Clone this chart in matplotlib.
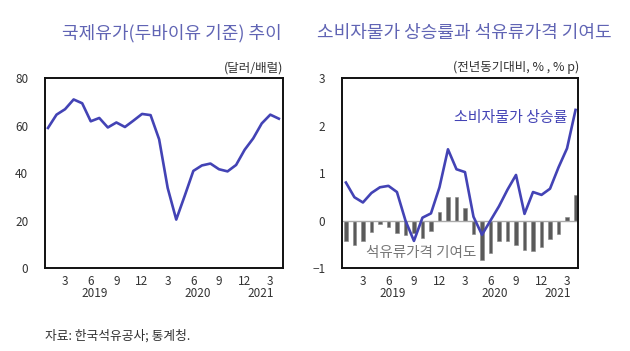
import matplotlib
matplotlib.use("Agg")
import matplotlib.pyplot as plt
import matplotlib.transforms as mtransforms
import numpy as np

plt.rcParams['font.family'] = ['Noto Sans CJK KR', 'DejaVu Sans']

# monthly data, Jan 2019 - Apr 2021
oil_price = [59.0, 64.6, 66.9, 71.0, 69.4, 61.8, 63.2, 59.2, 61.3, 59.4, 62.1, 64.9,
             64.4, 54.2, 33.7, 20.4, 30.5, 40.9, 43.2, 44.0, 41.6, 40.7, 43.4, 49.8,
             54.6, 60.9, 64.6, 62.9]
cpi = [0.8, 0.49, 0.38, 0.58, 0.7, 0.73, 0.6, 0.0, -0.43, 0.06, 0.15, 0.7,
       1.5, 1.08, 1.02, 0.08, -0.3, 0.0, 0.3, 0.65, 0.96, 0.14, 0.6, 0.54,
       0.67, 1.12, 1.52, 2.33]
oil_contrib = [-0.44, -0.51, -0.44, -0.25, -0.08, -0.13, -0.27, -0.3, -0.27, -0.37, -0.23, 0.17,
               0.5, 0.5, 0.26, -0.28, -0.83, -0.69, -0.44, -0.44, -0.52, -0.62, -0.65, -0.56,
               -0.39, -0.28, 0.07, 0.53]
tick_idx = [2, 5, 8, 11, 14, 17, 20, 23, 26]
tick_labels = ['3', '6', '9', '12', '3', '6', '9', '12', '3']
years = ['2019', '2020', '2021']
year_pos = [5.5, 17.5, 24.9]

x = np.arange(len(oil_price))
blue = '#4343b5'
title_c = '#6064b4'
txt = '#333333'

fig = plt.figure(figsize=(6.3, 3.51), dpi=100)
fig.patch.set_facecolor('white')

ax1 = fig.add_axes([0.0714, 0.2365, 0.378, 0.541])
ax2 = fig.add_axes([0.543, 0.2365, 0.3746, 0.541])

ax1.plot(x, oil_price, color=blue, lw=1.9)
ax1.set_ylim(0, 80)
ax1.set_yticks([0, 20, 40, 60, 80])
ax1.set_xlim(-0.35, 27.5)

ax2.bar(x, oil_contrib, width=0.45, color='#5a5a5a', edgecolor='#888888', linewidth=0.4)
ax2.axhline(0, color='#aaaaaa', lw=1.0)
ax2.plot(x, cpi, color=blue, lw=1.9)
ax2.set_ylim(-1, 3)
ax2.set_yticks([-1, 0, 1, 2, 3])
ax2.set_xlim(-0.45, 27.3)

for ax in (ax1, ax2):
    ax.set_xticks(tick_idx)
    ax.set_xticklabels(tick_labels)
    ax.tick_params(length=0, labelsize=8.5, colors=txt, pad=5)
    ax.tick_params(axis='y', pad=12)
    for s in ax.spines.values():
        s.set_linewidth(1.4)
        s.set_color('#111111')
    tr = mtransforms.blended_transform_factory(ax.transData, ax.transAxes)
    for yl, xp in zip(years, year_pos):
        ax.text(xp, -0.135, yl, transform=tr, ha='center', va='center', fontsize=8.5, color=txt)

fig.text(0.273, 0.905, '국제유가(두바이유 기준) 추이', ha='center', va='center', fontsize=13, color=title_c)
fig.text(0.737, 0.905, '소비자물가 상승률과 석유류가격 기여도', ha='center', va='center', fontsize=13, color=title_c)
fig.text(0.45, 0.807, '(달러/배럴)', ha='right', va='center', fontsize=9, color=txt)
fig.text(0.92, 0.807, '(전년동기대비, % , % p)', ha='right', va='center', fontsize=9, color=txt)

ax2.text(0.955, 0.79, '소비자물가 상승률', transform=ax2.transAxes, ha='right', va='center', fontsize=10.8, color=blue)
ax2.text(0.1, 0.08, '석유류가격 기여도', transform=ax2.transAxes, ha='left', va='center', fontsize=10.5, color='#777777')

fig.text(0.071, 0.043, '자료: 한국석유공사; 통계청.', ha='left', va='center', fontsize=9.2, color=txt)

fig.savefig('out.png', dpi=100)
